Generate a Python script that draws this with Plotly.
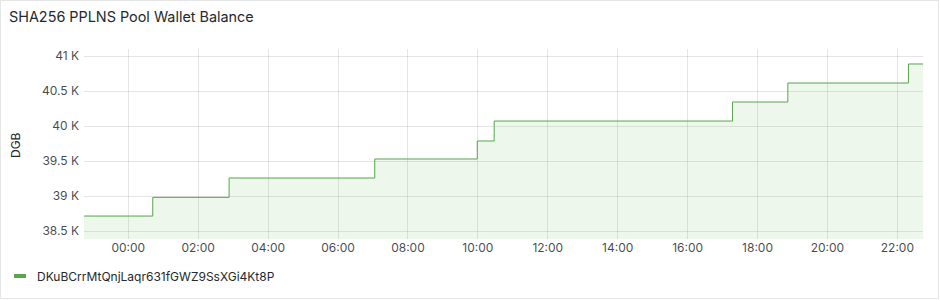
import plotly.graph_objects as go
import pandas as pd

# Step change times (wallet balance updates) and balance values in DGB
times = ["2024-01-01 22:44", "2024-01-02 00:42", "2024-01-02 02:53", "2024-01-02 07:03",
         "2024-01-02 09:59", "2024-01-02 10:28", "2024-01-02 17:17", "2024-01-02 18:52",
         "2024-01-02 22:19", "2024-01-02 22:44"]
balance = [38714, 38981, 39257, 39529, 39786, 40071, 40343, 40614, 40886, 40886]
series_name = "DKuBCrrMtQnjLaqr631fGWZ9SsXGi4Kt8P"
title_text = "SHA256 PPLNS Pool Wallet Balance"
y_tickvals = [38500, 39000, 39500, 40000, 40500, 41000]
y_ticktext = ["38.5 K", "39 K", "39.5 K", "40 K", "40.5 K", "41 K"]

W, H = 940, 300
L, R, T, B = 84, 17, 49, 61
pw, ph = W - L - R, H - T - B

def px_x(px):
    return (px - L) / pw

def px_y(py):
    return (H - B - py) / ph

line_color = "#56A64B"
fill_color = "rgba(115,191,105,0.13)"
text_color = "rgb(36,41,46)"
tick_color = "rgba(36,41,46,0.85)"
grid_color = "rgba(0,0,0,0.10)"
font = "Inter, Open Sans, sans-serif"

x = pd.to_datetime(times)
fig = go.Figure()
fig.add_trace(go.Scatter(
    x=x, y=balance, mode="lines", line=dict(color=line_color, width=1, shape="hv"),
    fill="tozeroy", fillcolor=fill_color, name=series_name, showlegend=False,
))

fig.update_layout(
    width=W, height=H, margin=dict(l=L, r=R, t=T, b=B),
    paper_bgcolor="white", plot_bgcolor="white",
    font=dict(family=font, size=12, color=tick_color),
    title=dict(text=title_text, xref="container", yref="container",
               x=9 / W, xanchor="left", y=1 - 16.5 / H, yanchor="middle",
               font=dict(family=font, size=14.4, color=text_color)),
    xaxis=dict(range=[x[0], x[-1]], type="date", tickformat="%H:%M", dtick=2 * 3600 * 1000,
               tick0="2024-01-02 00:00", showgrid=True, gridcolor=grid_color, gridwidth=1,
               zeroline=False, showline=False, ticks="", tickfont=dict(size=12, color=tick_color)),
    yaxis=dict(range=[38386, 41100], tickvals=y_tickvals, ticktext=y_ticktext,
               showgrid=True, gridcolor=grid_color, gridwidth=1, zeroline=False,
               showline=False, ticks="", ticklabelstandoff=4,
               tickfont=dict(size=12, color=tick_color)),
    showlegend=False,
)

# axis title
fig.add_annotation(text="DGB", xref="paper", yref="paper", x=px_x(15), y=px_y(145),
                   textangle=-90, showarrow=False, xanchor="center", yanchor="middle",
                   font=dict(family=font, size=12, color=text_color))
# legend
fig.add_annotation(text=series_name, xref="paper", yref="paper", x=px_x(35), y=px_y(276),
                   showarrow=False, xanchor="left", yanchor="middle",
                   font=dict(family=font, size=12, color=text_color))
fig.add_shape(type="line", xref="paper", yref="paper", x0=px_x(14), x1=px_x(26),
              y0=px_y(276), y1=px_y(276), line=dict(color=line_color, width=4))
# panel border
fig.add_shape(type="rect", xref="paper", yref="paper", x0=px_x(0.5), x1=px_x(938.5),
              y0=px_y(298.5), y1=px_y(0.5), line=dict(color="rgba(36,41,46,0.12)", width=1),
              layer="below")

fig.write_html("out.html")
